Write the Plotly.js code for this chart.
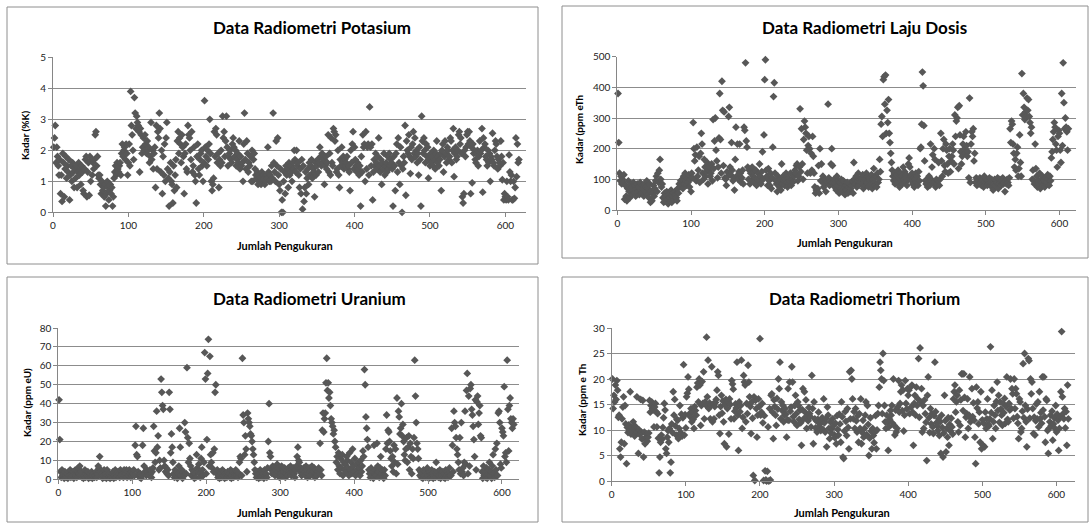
<!DOCTYPE html>
<html><head><meta charset="utf-8">
<script src="https://cdn.plot.ly/plotly-3.0.1.min.js"></script>
<style>html,body{margin:0;padding:0;background:#fff}#chart{width:1089px;height:524px}</style>
</head><body><div id="chart"></div>
<script>
// Kadar Potasium (%K), one value per measurement (index 1..N)
const kadarK = [
2.1,2.4,2.8,1.6,2.1,1.8,1.5,1.2,1.7,0.6,
1.2,0.35,1.9,1.6,0.5,1.4,1.8,1.1,1.5,1.3,
1.7,0.4,1.2,1.5,1.0,1.6,1.3,0.8,1.4,1.1,
1.5,0.8,1.3,1.6,1.2,1.4,0.9,1.5,1.3,0.7,
0.6,1.4,1.7,1.8,0.5,1.3,1.6,0.55,1.8,1.0,
1.7,1.2,1.6,1.4,1.7,2.5,2.6,1.5,1.8,1.2,
1.1,1.2,0.9,0.6,1.0,0.7,0.8,0.5,0.9,0.2,
0.6,1.0,0.8,0.4,0.7,0.9,0.6,0.8,0.2,0.5,
1.1,1.3,1.5,1.2,1.6,1.4,1.3,1.5,1.6,1.2,
1.9,2.2,1.8,2.0,2.1,1.7,2.2,1.9,1.2,1.6,
2.2,1.5,3.9,2.8,2.5,2.0,1.7,3.7,3.2,2.7,
3.1,2.9,2.8,2.6,1.3,2.7,2.5,1.9,2.1,2.4,
2.0,2.5,2.2,1.9,2.3,2.0,2.1,1.6,1.8,2.9,
1.7,2.0,1.4,1.9,2.1,0.8,2.8,1.4,2.6,2.4,
3.2,2.7,1.3,2.0,0.6,1.8,1.2,2.2,1.0,2.4,
2.9,1.4,1.1,0.2,1.3,1.6,1.0,0.9,0.3,1.5,
0.7,1.2,1.7,0.8,2.3,2.6,1.9,2.4,2.2,1.6,
2.5,2.1,1.8,0.6,1.9,2.2,1.4,1.3,2.8,2.5,
2.4,2.0,1.7,2.6,1.3,1.5,2.1,1.2,1.0,0.3,
1.8,2.2,1.4,1.2,1.7,1.9,2.0,1.5,1.0,1.6,
3.6,2.1,1.8,1.5,2.0,1.7,2.2,3.0,1.9,1.0,
0.7,0.9,1.1,2.6,1.8,2.7,2.5,1.6,1.9,0.8,
1.7,1.5,2.0,1.6,3.1,2.4,2.6,1.8,2.3,3.1,
2.1,1.5,1.8,1.9,2.0,1.7,1.6,2.2,2.4,2.1,
1.8,2.0,1.5,1.7,1.9,1.6,2.3,1.4,1.8,1.5,
1.6,1.0,2.2,3.2,1.7,1.4,2.3,1.9,1.3,1.6,
1.5,1.8,1.0,2.0,1.0,1.7,1.9,1.4,1.2,1.1,
1.3,0.9,1.0,1.2,1.1,0.9,1.3,1.0,1.2,1.1,
0.9,1.0,1.2,1.1,2.1,1.3,1.0,1.2,1.0,1.5,
1.1,3.2,1.6,1.3,1.0,2.3,1.5,2.4,1.2,0.9,
0.7,1.4,0.0,0.4,0.0,1.0,1.3,0.6,1.5,1.2,
1.4,0.8,1.6,1.2,1.5,1.3,1.0,1.6,1.4,2.0,
1.7,1.3,2.0,1.5,1.6,1.2,0.8,1.4,0.6,1.7,
0.1,1.5,0.35,0.8,1.3,0.6,1.1,1.4,0.9,1.6,
1.2,1.5,1.7,1.1,1.4,1.3,0.5,1.6,1.2,1.5,
1.7,1.3,1.6,2.1,1.8,1.5,1.9,1.6,1.7,0.9,
1.5,1.8,1.4,1.6,2.5,1.3,1.9,1.2,2.4,1.6,
1.5,2.7,2.6,2.3,2.5,1.3,1.4,2.0,1.2,0.8,
1.7,1.5,2.1,1.6,1.8,1.4,1.7,1.5,1.6,1.8,
1.4,1.5,1.3,0.7,2.0,1.6,2.2,2.6,1.4,2.1,
1.7,1.5,1.3,1.6,1.4,1.2,1.5,0.2,1.8,1.3,
2.5,2.1,2.2,1.0,2.6,1.4,2.1,2.2,1.2,3.4,
2.1,1.5,2.2,0.4,1.3,1.7,1.5,1.9,1.6,1.4,
1.8,2.4,1.5,1.3,1.7,0.9,1.6,1.4,1.9,1.2,
1.5,1.6,1.3,1.8,1.4,1.9,1.5,1.7,1.6,1.4,
0.2,1.8,1.5,0.7,1.9,2.2,1.3,2.4,1.6,0.9,
2.1,1.5,0.0,1.4,1.8,1.6,2.8,0.55,2.3,2.0,
1.9,2.5,1.8,1.25,2.1,1.7,2.2,2.6,1.9,2.4,
1.8,2.0,1.6,1.9,1.2,2.1,1.7,0.2,3.1,2.3,
1.9,2.4,2.0,1.6,2.2,1.8,2.1,1.1,1.7,1.5,
1.9,1.6,1.8,1.5,2.0,1.7,1.4,1.9,2.3,1.6,
1.8,1.5,1.7,1.9,0.7,2.0,2.2,1.3,1.8,2.3,
1.9,1.6,2.1,2.0,1.7,1.8,2.4,2.3,1.6,2.0,
2.7,1.15,1.9,2.1,1.7,1.8,2.0,2.5,2.6,2.2,
2.4,1.9,0.5,0.3,0.6,2.0,1.8,2.1,2.5,2.6,
2.2,2.6,2.3,0.6,2.1,0.95,2.2,1.9,2.0,1.7,
1.6,1.9,2.0,1.5,1.8,2.3,1.9,2.0,2.7,0.65,
2.4,2.1,2.2,1.8,1.7,1.5,2.0,1.6,1.9,1.0,
1.8,1.7,2.55,1.6,1.5,2.0,2.3,2.2,1.8,1.4,
1.7,1.6,1.5,2.3,1.8,1.05,1.6,0.4,0.6,0.5,
0.4,1.0,0.5,0.4,1.85,1.3,1.0,1.2,0.4,0.4,
1.0,0.45,0.8,2.4,1.15,2.2,1.6,1.7
];

// Laju Dosis
const lajuDosis = [
380,220,120,95,110,85,100,90,115,35,
80,45,30,70,95,60,40,85,75,50,
65,90,55,80,45,70,85,60,75,50,
90,65,55,80,70,45,85,60,75,95,
50,70,40,85,25,60,30,55,80,45,
70,95,110,60,120,90,130,165,100,75,
85,40,25,55,30,45,60,35,20,50,
40,30,65,25,45,55,35,60,50,40,
30,70,55,85,75,95,80,100,70,110,
85,120,95,80,105,90,115,75,100,60,
120,105,285,200,160,180,95,205,110,130,
175,90,185,250,215,120,100,165,140,110,
125,155,85,130,140,110,120,150,95,295,
135,225,300,195,160,105,140,235,380,230,
120,420,325,145,320,105,100,80,125,110,
305,335,140,115,220,130,95,105,65,165,
270,110,215,100,125,215,120,90,105,130,
85,270,260,480,225,205,140,100,130,85,
120,95,140,110,125,90,105,130,80,100,
120,95,150,110,85,125,190,100,245,425,
490,130,110,80,135,95,80,120,70,105,
205,370,415,120,95,85,60,110,90,75,
100,65,150,85,110,95,80,100,120,90,
75,105,85,95,120,80,100,90,115,110,
130,120,145,150,95,110,140,330,125,265,
150,100,230,290,270,250,195,120,210,240,
200,120,185,130,240,175,120,75,55,65,
60,70,145,55,200,95,150,95,110,75,
85,100,60,90,95,345,105,80,95,150,
200,145,90,100,75,85,65,110,80,95,
55,90,70,100,60,85,95,75,50,80,
65,90,55,75,85,60,70,80,95,55,
155,100,85,110,75,95,120,80,100,90,
105,85,115,70,95,100,80,120,90,110,
75,105,95,85,115,70,100,135,90,80,
110,75,120,90,100,165,125,280,305,240,
425,435,345,440,250,325,285,360,250,220,
185,155,130,110,95,120,85,100,115,90,
130,105,75,120,95,110,85,140,100,125,
90,115,80,100,150,170,140,110,95,120,
85,105,75,100,120,90,110,80,125,95,
200,205,280,450,405,275,160,95,85,100,
75,90,110,80,215,100,140,180,90,200,
165,75,100,85,95,155,80,100,250,160,
110,200,230,145,125,215,195,150,120,175,
200,125,160,175,215,195,150,310,240,290,
300,335,135,340,245,190,150,175,215,240,
200,185,255,210,175,190,105,365,90,215,
255,240,265,160,185,90,105,80,100,95,
85,105,90,80,100,95,75,110,90,85,
100,80,95,85,105,80,90,100,75,65,
85,100,80,95,90,105,70,85,100,90,
80,95,105,85,90,60,95,85,100,90,
80,105,265,220,290,280,215,185,140,165,
130,185,205,110,135,245,155,110,445,310,
380,335,295,320,305,365,325,360,305,285,
250,270,100,130,95,85,215,135,110,75,
95,85,120,70,100,90,110,80,95,75,
105,85,90,115,100,80,110,95,170,190,
230,255,285,270,215,195,140,240,260,250,
195,155,380,210,480,350,265,300,270,255,
195,265
];

// Uranium (ppm eU)
const uranium = [
42,21,4,1,5,2,3,0.5,4,2,
1,3,0.5,4,2,5,1,3,2,4,
0.5,3,5,2,1,4,6,3,7,2,
4,1,3,0.5,2,5,1,3,2,4,
0.5,2,3,1,4,0.5,2,3,1,2,
4,1,3,7,6,12,4,2,3,0.5,
2,5,1,3,0.5,5,2,1,3,0.5,
2,1,3,4,0.5,2,5,1,3,2,
4,3,1,5,2,4,3,1,5,2,
3,5,1,4,2,5,3,1,4,2,
3,5,2,18,28,13,12,4,2,1,
3,0.5,2,18,27,7,4,3,2,5,
4,3,2,5,3,1,4,6,28,15,
9,14,36,17,23,5,10,6,53,46,
39,37,10,7,4,6,3,5,2,46,
37,14,24,17,9,3,1,5,2,4,
0.5,3,7,27,17,2,5,0.5,4,2,
30,25,3,59,22,9,19,11,7,2,
5,2,4,0.5,3,1,13,6,4,8,
3,1,11,17,5,2,9,67,53,3,
21,56,74,7,65,13,9,6,14,4,
16,46,50,3,5,1,2,0.5,4,3,
1,5,2,4,0.5,3,2,1,4,2,
3,1,5,0.5,2,4,1,3,2,5,
2,4,1,3,9,12,11,2,64,34,
30,13,23,16,4,35,32,30,28,24,
23,20,16,13,9,5,3,1,4,2,
0.5,3,5,1,2,4,3,0.5,5,2,
3,1,6,20,40,14,12,5,3,7,
4,6,2,5,3,8,4,6,1,5,
3,7,2,5,4,6,1,3,5,2,
6,4,3,7,2,5,4,6,3,1,
5,7,12,17,10,9,4,6,2,5,
3,6,4,2,7,5,1,3,6,4,
2,5,7,3,4,6,1,5,3,2,
4,6,3,19,5,2,26,35,25,32,
35,51,64,47,51,43,46,39,32,30,
28,24,26,20,17,9,12,5,14,7,
3,11,6,13,2,9,5,8,4,12,
10,6,2,14,5,9,3,16,7,4,
11,2,8,5,3,9,6,2,10,4,
7,15,12,58,50,33,27,21,17,5,
3,1,6,2,4,0.5,18,5,3,2,
19,7,4,1,6,12,3,5,2,0.5,
5,2,16,34,19,26,25,20,15,11,
7,12,4,18,9,16,3,43,8,36,
33,24,27,40,23,29,20,13,10,16,
22,9,17,23,5,19,12,3,16,11,
22,63,44,30,19,16,11,5,2,4,
1,3,0.5,5,2,4,1,3,6,2,
0.5,4,2,1,5,3,0.5,2,4,1,
9,3,4,1,2,5,0.5,3,2,4,
1,3,0.5,5,2,4,1,3,6,2,
2,27,18,4,36,30,28,22,16,13,
9,5,22,3,30,4,6,2,9,36,
8,47,56,3,44,7,48,50,37,34,
28,21,12,42,5,41,44,29,35,39,
23,22,4,0.5,7,2,4,1,6,0.5,
3,5,9,2,4,0.5,7,13,3,1,
16,5,19,2,35,36,30,8,6,27,
25,23,49,12,14,9,63,37,15,39,
43,32,30,27,32,29
];

// Thorium (ppm eTh)
const thorium = [
20,14.2,16.8,15.5,18.8,16,19.7,17.8,12.5,12.9,
6.3,4.7,7.6,12.2,14.5,16.5,7.3,14.8,11.2,3.4,
10.5,9.5,11,10,17.5,9.2,10.5,9.8,11.6,10.2,
8.8,10.7,9.4,16.5,9.5,5.4,10,9.1,16,9.6,
8.2,15.8,4.7,9.6,7.3,8.6,9.2,7.8,8.6,9.4,
15.8,13.5,14.8,15.5,14.2,13.9,10.6,14.5,15.2,13.6,
10.6,13.2,8.4,1.6,4.7,7.6,9,8.2,10.5,12.4,
15.2,13.9,6.3,5.4,8.6,9.9,7.6,10.3,1.6,3.7,
11.2,9.5,17.5,12.9,16,10.8,9,12.1,11.9,8.3,
10.3,14.8,9.5,13.1,8.8,12.4,22.8,9,13,10.4,
16.5,17.2,20.4,18,13.2,12.6,14.2,11.6,13.5,12.1,
10.3,14.6,13.8,12.9,18.4,19.2,15.5,20,18.8,10.9,
14.8,19.5,15.2,21.4,12.2,15.5,14.9,28.2,16.5,23.7,
14.2,15.3,12.2,14.9,22.4,11.6,15.1,12.2,14.6,15.4,
16,17.8,21.4,20.7,12.9,9.3,14.6,16.8,13.3,15.7,
11.6,7.3,14.9,16,6.7,14.2,15.6,9.2,16.1,15,
12.2,19.7,19,18,12.2,13.7,15.1,14.3,23.3,12.9,
6,15.5,13.6,14.8,23.7,10.3,12.5,20.7,19.4,18.8,
11.6,15.2,13.2,22.7,19.4,16.5,14.6,9.3,15.5,12.3,
1.1,16.5,0.1,15.8,14.2,8.6,12.9,16.1,14.6,27.9,
12.9,13.5,15.2,11.4,0.1,12.8,2,0.2,0,1.9,
10.6,0,14.2,0.2,16.8,17.1,13.5,8.3,15.9,14.6,
12.9,10.9,16.2,14.1,20,18.1,23.3,12.2,15.5,13.8,
14.8,11.6,12.9,14.2,13.1,8.6,12,18.1,11.9,19.4,
13.7,14.5,22.4,19.4,12.6,11.6,14.8,16.8,13.2,10.9,
15.5,14.8,12.1,13.9,11.4,7,14,18.1,12.2,17.5,
13.5,15.9,10.3,12.8,11.8,14.4,13.2,12.6,10.6,20.7,
14.2,7.3,15.5,12.2,10.4,11.8,9.6,12.1,13.5,10.7,
11.2,9.9,11.7,12.4,10.1,16.1,11.4,9.6,12.2,6.7,
14.5,12.9,10.3,8.3,11.6,9.4,10.3,12.2,10.8,9.1,
8.5,11.3,7.3,12.8,10.1,9,13.1,11.2,7.6,15.5,
12.6,4.7,4.4,9.8,13.6,11.7,8.9,14.2,10.5,6.3,
21.4,12.2,21.7,20,16.1,12.2,13.6,10.3,14.2,11.8,
9.6,12.8,7.6,13.2,10.3,16.1,7.3,9.5,11.9,8.6,
10.3,12.9,15.5,9.1,14.8,11.1,5,8.4,12.4,9.8,
6.3,10.3,8.9,7.5,9.6,12.8,6.3,10,13.2,14.8,
18.4,23.3,21.7,20,13.2,25,19.7,14.8,11.6,10.3,
12.9,11.5,6,10.6,12.1,13.8,12.9,14.8,11.3,20,
10.9,9,13.9,9.6,10.3,14.5,19.7,13.5,15.2,17.5,
18.8,13.8,17.8,9.8,12.9,19.7,15.2,14.1,18.1,16.8,
17.8,13.2,18.4,14.5,18.8,13.5,7,15.2,16.8,12.9,
18.4,14.8,16.1,24,12.5,26.1,15.5,18.1,9.6,14.8,
10.3,15.9,13.2,11.5,4,16.8,20.4,12.4,9.5,14.2,
11.2,13.2,10.6,9.3,12.8,23.3,13.6,11.4,10.8,9.9,
12.2,8.9,11.6,5.4,12.9,10.5,4.7,9.4,16.8,11.8,
5.7,10.3,8.6,12.4,7,11.1,9.8,12.3,10.6,9.2,
16.1,17.5,18.8,13.5,15.5,16.8,11.6,9.6,17.8,10.9,
15.9,21,21,13.8,21,16.4,8.6,12.5,13.2,16.1,
10.3,12.9,20.4,11.6,12.2,18.1,12.6,15.3,11.9,8.6,
3.4,18.4,14.3,15.5,11.2,13.5,7.6,17.5,6.3,12,
7,11.3,6.7,13.5,10.3,12.2,16.1,11.1,10.8,12.2,
26.3,13.4,17.8,8.3,11.6,14.8,12.9,10.3,15.6,19.4,
13.8,16.8,11.5,15.5,14.1,12.9,10.9,15.2,13.4,16.2,
11.3,14.6,20.4,12.1,11.6,15.2,13.9,20,14.2,18.1,
17.1,12.3,20,14.2,18.1,17.1,12.6,11.3,8.3,16.1,
15.5,9.6,10.3,13.7,23,12.4,25,14.8,11.6,6.7,
14.1,24,23.6,12.3,20,17.1,19.4,14.2,9.3,12.5,
9,11.8,15.1,12.2,15.5,10.6,17.5,12.2,13.4,11.3,
20.4,13.9,20.4,12.6,7.6,16.1,15.8,9.9,5.4,10.3,
11.6,12.9,10.9,13.7,8,11.2,12.4,10.3,14.8,9.6,
13.1,11.9,6,10.3,12.6,17.5,29.3,16.5,13.2,12.2,
14.2,10.4,13.6,7,18.8,12.2
];

const panelTitles = ['Data Radiometri Potasium','Data Radiometri Laju Dosis','Data Radiometri Uranium','Data Radiometri Thorium'];
const yTitles = ['Kadar (%K)','Kadar (ppm eTh','Kadar (ppm eU)','Kadar (ppm e Th'];
const xTitle = 'Jumlah Pengukuran';
const xTickVals = [0,100,200,300,400,500,600];
const yMax = [5,500,80,30];
const yStep = [1,100,10,5];
const series = [kadarK, lajuDosis, uranium, thorium];

const W = 1089, H = 524;
const fx = v => v / W, fy = v => 1 - v / H;
// layout geometry in pixels
const geo = [
  {plot:[53,57.3,525.7,212.3], xmax:627, box:[7,7,538,264], title:[312,28], xt:[285,245], yt:[25,135]},
  {plot:[617.3,56.7,1075.7,210], xmax:622, box:[562,6,1088,258], title:[864,27], xt:[845,242], yt:[579,129]},
  {plot:[58.3,328,519,479.3], xmax:623, box:[7,277,538,522], title:[309,298], xt:[285,512], yt:[27,403]},
  {plot:[611.7,328,1075,481], xmax:625, box:[562,277,1088,522], title:[864,298], xt:[842,512], yt:[582,400]}
];

const FONT = 'Lato, "Open Sans", sans-serif';
const traces = [], shapes = [], annotations = [];
const layout = {
  width: W, height: H, margin: {l:0, r:0, t:0, b:0},
  paper_bgcolor: '#fff', plot_bgcolor: '#fff', showlegend: false,
  font: {family: FONT, color: '#222', size: 10}
};

series.forEach((vals, i) => {
  const g = geo[i];
  const xa = i === 0 ? 'x' : 'x' + (i + 1);
  const ya = i === 0 ? 'y' : 'y' + (i + 1);
  traces.push({
    type: 'scatter', mode: 'markers',
    x: vals.map((_, k) => k + 1), y: vals,
    xaxis: xa, yaxis: ya, cliponaxis: false,
    marker: {symbol: 'diamond', size: 6, color: '#575757'},
    hoverinfo: 'x+y'
  });
  const xk = i === 0 ? 'xaxis' : 'xaxis' + (i + 1);
  const yk = i === 0 ? 'yaxis' : 'yaxis' + (i + 1);
  layout[xk] = {
    domain: [fx(g.plot[0]), fx(g.plot[2])], anchor: ya,
    range: [0, g.xmax], tickvals: xTickVals, ticks: 'outside', ticklen: 4,
    tickcolor: '#868686', showline: true, linecolor: '#868686', linewidth: 1,
    showgrid: false, zeroline: false, tickfont: {family: FONT, size: 10, color: '#222'}, fixedrange: true
  };
  const yv = []; for (let v = 0; v <= yMax[i]; v += yStep[i]) yv.push(v);
  layout[yk] = {
    domain: [fy(g.plot[3]), fy(g.plot[1])], anchor: xa,
    range: [0, yMax[i]], tickvals: yv, ticks: 'outside', ticklen: 4,
    tickcolor: '#868686', showline: true, linecolor: '#868686', linewidth: 1,
    showgrid: true, gridcolor: '#8c8c8c', gridwidth: 1, zeroline: false,
    tickfont: {family: FONT, size: 10, color: '#222'}, fixedrange: true
  };
  shapes.push({type: 'rect', xref: 'paper', yref: 'paper', layer: 'below',
    x0: fx(g.box[0]), x1: fx(g.box[2]), y0: fy(g.box[3]), y1: fy(g.box[1]),
    line: {color: '#8e8e8e', width: 1}, fillcolor: 'rgba(0,0,0,0)'});
  annotations.push({text: panelTitles[i], xref: 'paper', yref: 'paper', x: fx(g.title[0]), y: fy(g.title[1]),
    xanchor: 'center', yanchor: 'middle', showarrow: false,
    font: {family: FONT, size: 17, color: '#000', weight: 'bold'}});
  annotations.push({text: xTitle, xref: 'paper', yref: 'paper', x: fx(g.xt[0]), y: fy(g.xt[1]),
    xanchor: 'center', yanchor: 'middle', showarrow: false,
    font: {family: FONT, size: 11, color: '#000', weight: 'bold'}});
  annotations.push({text: yTitles[i], xref: 'paper', yref: 'paper', x: fx(g.yt[0]), y: fy(g.yt[1]),
    xanchor: 'center', yanchor: 'middle', showarrow: false, textangle: -90,
    font: {family: FONT, size: 10, color: '#000', weight: 'bold'}});
});
layout.shapes = shapes;
layout.annotations = annotations;

Plotly.newPlot('chart', traces, layout, {staticPlot: true, displayModeBar: false});
</script>
</body></html>
